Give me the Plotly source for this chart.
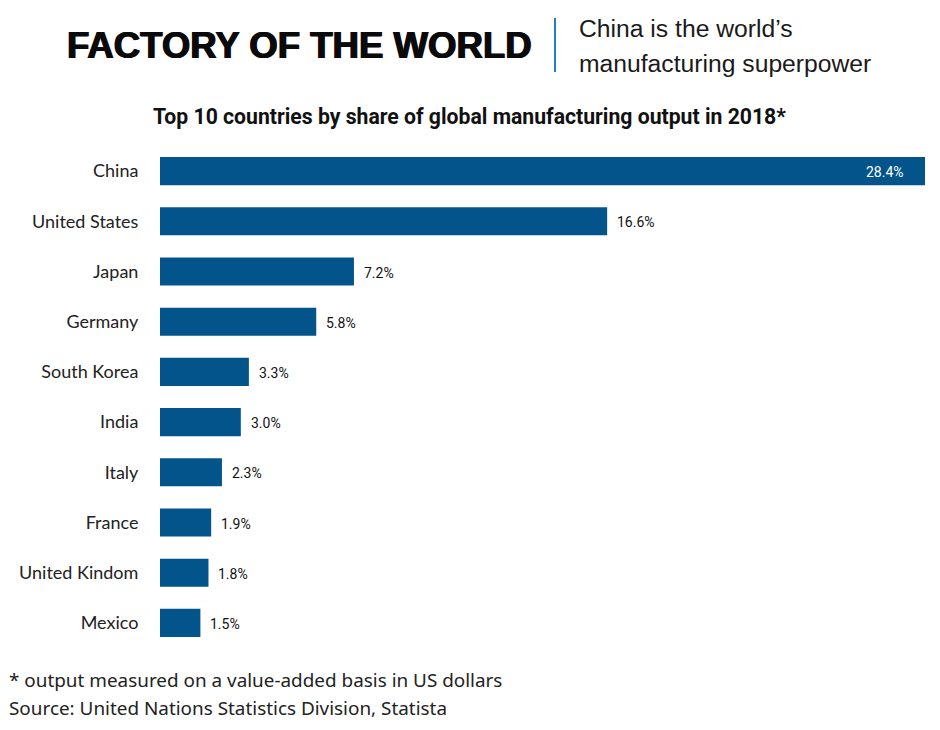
import plotly.graph_objects as go

paises = ["China", "United States", "Japan", "Germany", "South Korea", "India", "Italy", "France", "United Kindom", "Mexico"]
cuota = [28.4, 16.6, 7.2, 5.8, 3.3, 3.0, 2.3, 1.9, 1.8, 1.5]

# La pagina deja 8px de margen en el body, por eso 932x722
ANCHO, ALTO = 932, 722
M_L, M_R, M_T, M_B = 152, 15, 138, 82
PLOT_W = ANCHO - M_L - M_R
PLOT_H = ALTO - M_T - M_B

def px(x):
    return (x - 8 - M_L) / PLOT_W

def py(y):
    return (ALTO + 8 - M_B - y) / PLOT_H

fig = go.Figure()

fig.add_trace(go.Bar(
    x=cuota,
    y=paises,
    orientation='h',
    marker=dict(color='#02548B', line=dict(width=0)),
    hovertemplate="%{y}: %{x}%<extra></extra>",
))

fig.update_layout(
    template="none",
    width=ANCHO,
    height=ALTO,
    showlegend=False,
    bargap=0.44,
    plot_bgcolor="white",
    paper_bgcolor="white",
    margin=dict(l=M_L, r=M_R, t=M_T, b=M_B),
    font=dict(family="Lato, sans-serif", color="#1a1a1a"),
)

fig.update_xaxes(range=[0, 28.4], visible=False)

fig.update_yaxes(
    autorange="reversed",
    showgrid=False,
    zeroline=False,
    showline=False,
    ticks="outside",
    ticklen=17,
    tickcolor="rgba(0,0,0,0)",
    tickfont=dict(family="Lato, sans-serif", size=18, color="#222222"),
)

# Etiquetas de valor
for i, (pais, v) in enumerate(zip(paises, cuota)):
    dentro = i == 0
    fig.add_annotation(
        x=v, y=pais, text=f"{v:.1f}%", showarrow=False,
        xanchor="right" if dentro else "left",
        xshift=-19 if dentro else 8,
        yshift=-1,
        font=dict(family="Roboto, sans-serif", size=14, color="white" if dentro else "#111111"),
    )

# Cabecera, subtitulo y notas
def texto(x, y, contenido, familia, size, color, xanchor="left", **font_extra):
    fig.add_annotation(text=contenido, xref="paper", yref="paper", x=px(x), y=py(y),
                       xanchor=xanchor, yanchor="middle", align="left", showarrow=False,
                       font=dict(family=familia, size=size, color=color, **font_extra))

texto(65, 46, "<b>FACTORY OF THE WORLD</b>", "Liberation Sans, sans-serif", 36.6, "#0a0a0a",
      shadow="0.7px 0 0 #0a0a0a, -0.7px 0 0 #0a0a0a")
fig.add_shape(type="line", xref="paper", yref="paper", x0=px(555), x1=px(555), y0=py(72), y1=py(18),
              line=dict(color="#1F7FC4", width=2))
texto(577, 29, "China is the world’s", "Liberation Sans, sans-serif", 24.7, "#1a1a1a")
texto(577, 64, "manufacturing superpower", "Liberation Sans, sans-serif", 24.7, "#1a1a1a")
texto(469.5, 116, "<b>Top 10 countries by share of global manufacturing output in 2018*</b>", "Roboto, sans-serif", 21.2, "#111111", xanchor="center")
texto(7, 680, "* output measured on a value-added basis in US dollars", "Noto Sans, sans-serif", 18.9, "#222222")
texto(7, 708, "Source: United Nations Statistics Division, Statista", "Noto Sans, sans-serif", 18.9, "#222222")

fig.write_html("out.html")
